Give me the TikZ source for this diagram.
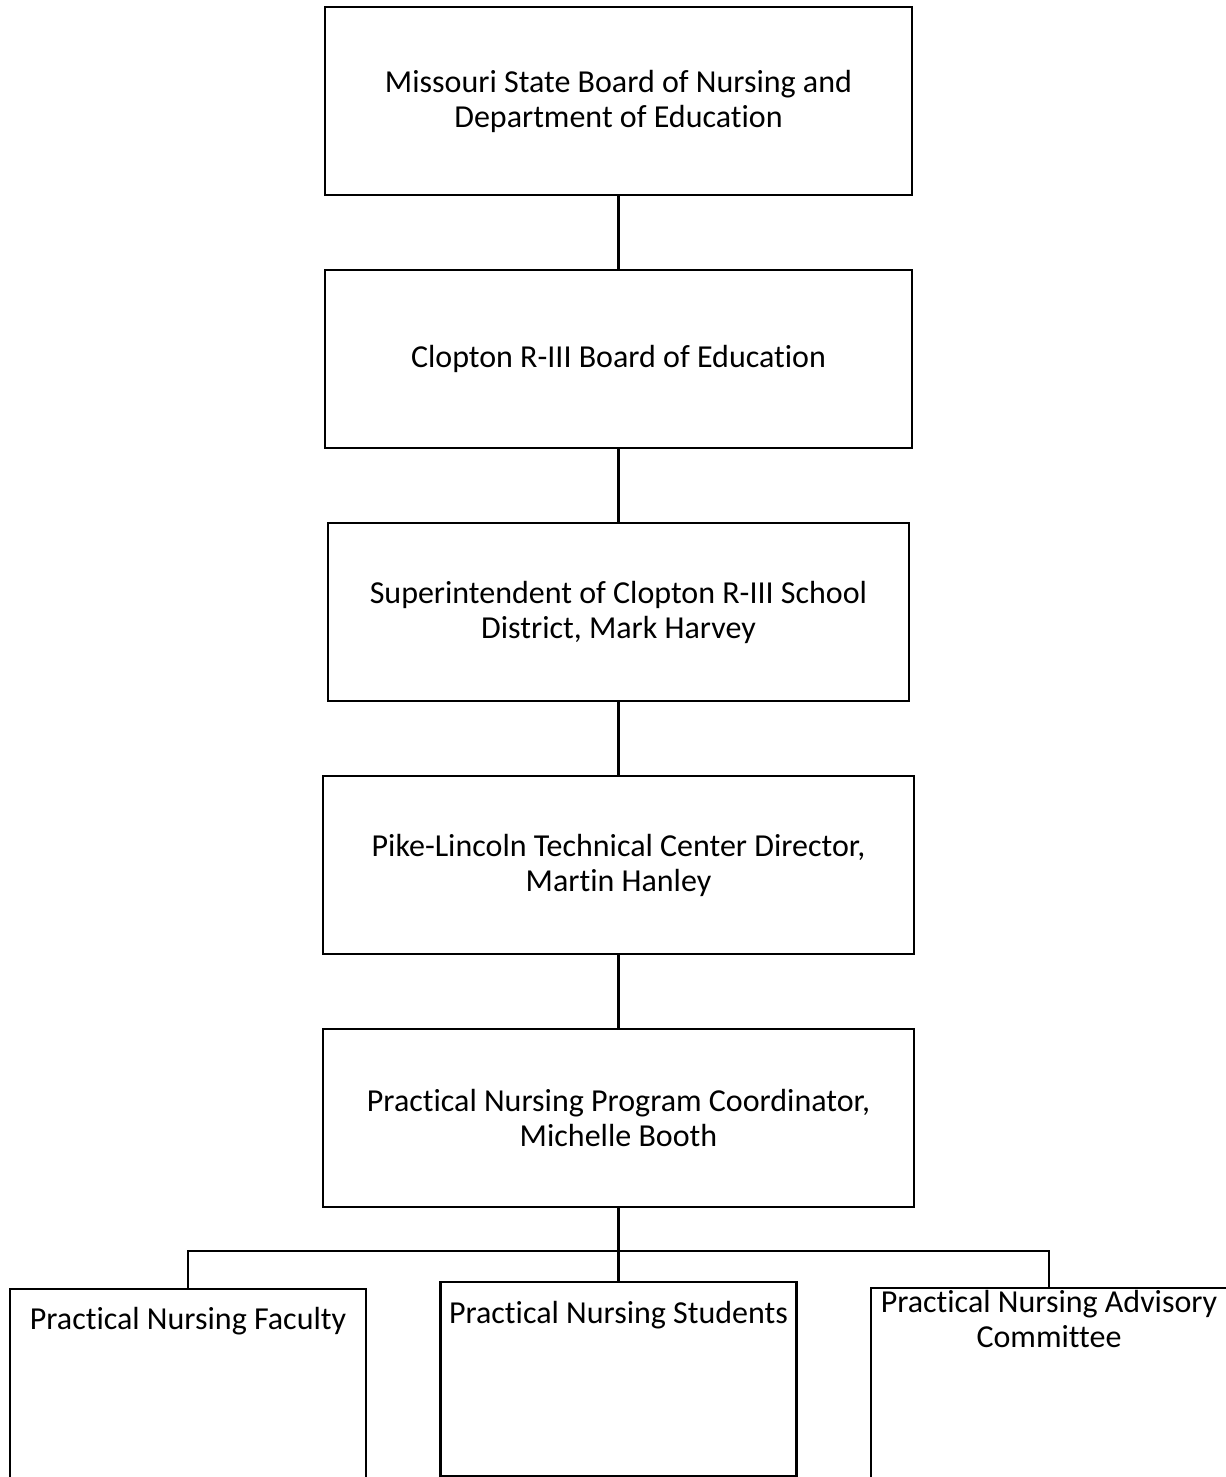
\documentclass[tikz,border=0pt]{standalone}
\usepackage{fontspec}
\setmainfont{Carlito}[Ligatures=NoCommon]
\usepackage{tikz}
\usetikzlibrary{positioning}
\tikzset{org box/.style={rectangle,draw,line width=1.6pt,align=center,inner sep=0pt,outer sep=0pt,
                         font=\fontsize{24}{26.25}\selectfont},
         row box/.style={rectangle,draw,line width=1.6pt,minimum width=267pt,inner sep=0pt,outer sep=0pt},
         box text/.style={align=center,anchor=center,inner sep=0pt,
                          font=\fontsize{24}{26.25}\selectfont},
            }

\begin{document}
\begin{tikzpicture}

    \useasboundingbox (-463.875pt,75.75pt) rectangle ++(918.75pt,-1107.75pt);

    \node[org box, minimum width=440.25pt, minimum height=141pt] (msbn) {Missouri State Board of Nursing and\\Department of Education};
    \node[org box, minimum width=440.25pt, minimum height=133.5pt] (board) [below = 56.25pt of msbn] {Clopton R-III Board of Education};
    \node[org box, minimum width=435.75pt, minimum height=133.5pt] (supt) [below = 56.25pt of board] {Superintendent of Clopton R-III School\\District, Mark Harvey};
    \node[org box, minimum width=443.25pt, minimum height=133.5pt] (dir) [below = 56.25pt of supt] {Pike-Lincoln Technical Center Director,\\Martin Hanley};
    \node[org box, minimum width=443.25pt, minimum height=133.5pt] (coord) [below = 56.25pt of dir] {Practical Nursing Program Coordinator,\\Michelle Booth};

    \node[row box, minimum height=150pt, label={[box text,yshift=-24pt]north:Practical Nursing Faculty}] (faculty) [below = 61.5pt of coord, xshift=-322.875pt] {};
    \node[row box, minimum height=145.5pt, label={[box text,yshift=-24.75pt]north:Practical Nursing Students}] (students) [below = 56.25pt of coord] {};
    \node[row box, minimum width=275pt, minimum height=150pt, label={[box text,yshift=-23.25pt,xshift=-4pt]north:{Practical Nursing Advisory\\Committee}}] (advisory) [below = 60.75pt of coord, xshift=326.875pt] {};

    \coordinate[below = 33pt of coord] (split);

    \path[draw,line width=1.6pt]
    (msbn) edge (board)
    (board) edge (supt)
    (supt) edge (dir)
    (dir) edge (coord)
    (coord) edge (students);

    \draw[line width=1.6pt] (faculty.north) |- (split) -| ([xshift=-4pt]advisory.north);

\end{tikzpicture}
\end{document}
